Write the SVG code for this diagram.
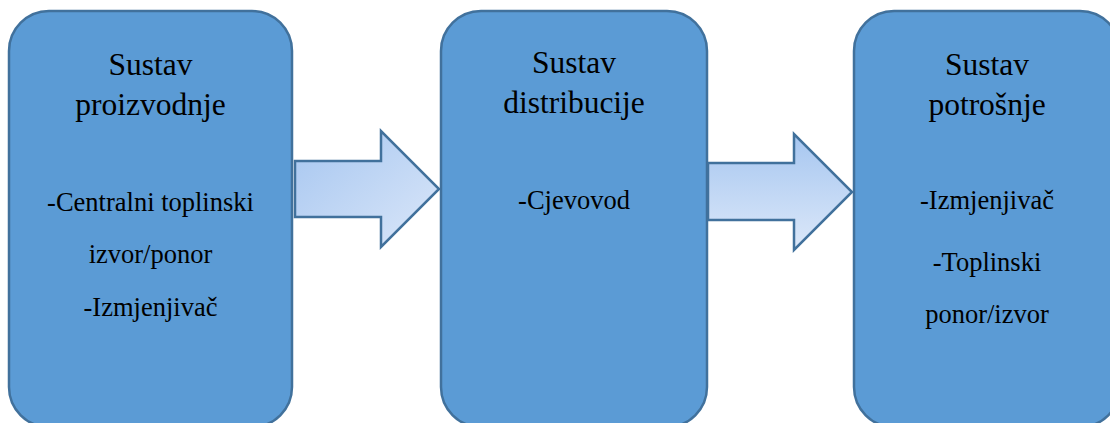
<svg xmlns="http://www.w3.org/2000/svg" width="1110" height="423" viewBox="0 0 1110 423">
<style>
.box{fill:#5b9bd5;stroke:#41719c;stroke-width:2.5}
.arr{stroke:#41719c;stroke-width:2.5;stroke-linejoin:miter}
.t{font-family:"Liberation Serif","Times New Roman",serif;fill:#000;text-anchor:middle}
.h{font-size:31.5px}
.b{font-size:26.5px}
</style>
<defs>
<linearGradient id="g1" x1="0" y1="0" x2="1" y2="1">
<stop offset="0" stop-color="#a6c6f0"/>
<stop offset="1" stop-color="#dbe7f9"/>
</linearGradient>
<linearGradient id="g2" x1="0" y1="0" x2="0" y2="1">
<stop offset="0" stop-color="#a6c6f0"/>
<stop offset="1" stop-color="#dce8f9"/>
</linearGradient>
</defs>
<rect width="1110" height="423" fill="#fff"/>
<g id="node-proizvodnja">
<rect class="box" x="9" y="11" width="283" height="416" rx="40" ry="40"/>
<text class="t h" x="150.5" y="75">Sustav</text>
<text class="t h" x="150.5" y="115">proizvodnje</text>
<text class="t b" x="150.5" y="211">-Centralni toplinski</text>
<text class="t b" x="150.5" y="263">izvor/ponor</text>
<text class="t b" x="150.5" y="316">-Izmjenjivač</text>
</g>
<g id="node-distribucija">
<rect class="box" x="441" y="11" width="266" height="416" rx="40" ry="40"/>
<text class="t h" x="574" y="73">Sustav</text>
<text class="t h" x="574" y="113">distribucije</text>
<text class="t b" x="574" y="209">-Cjevovod</text>
</g>
<g id="node-potrosnja">
<rect class="box" x="854" y="11" width="266" height="416" rx="40" ry="40"/>
<text class="t h" x="987" y="75">Sustav</text>
<text class="t h" x="987" y="115">potrošnje</text>
<text class="t b" x="987" y="209">-Izmjenjivač</text>
<text class="t b" x="987" y="271">-Toplinski</text>
<text class="t b" x="987" y="323">ponor/izvor</text>
</g>
<g id="connectors">
<path class="arr" fill="url(#g1)" d="M295,161 L381,161 L381,131 L439,189 L381,247 L381,217 L295,217 Z"/>
<path class="arr" fill="url(#g2)" d="M708,163 L794,163 L794,134 L852,192 L794,250 L794,220 L708,220 Z"/>
</g>
</svg>
